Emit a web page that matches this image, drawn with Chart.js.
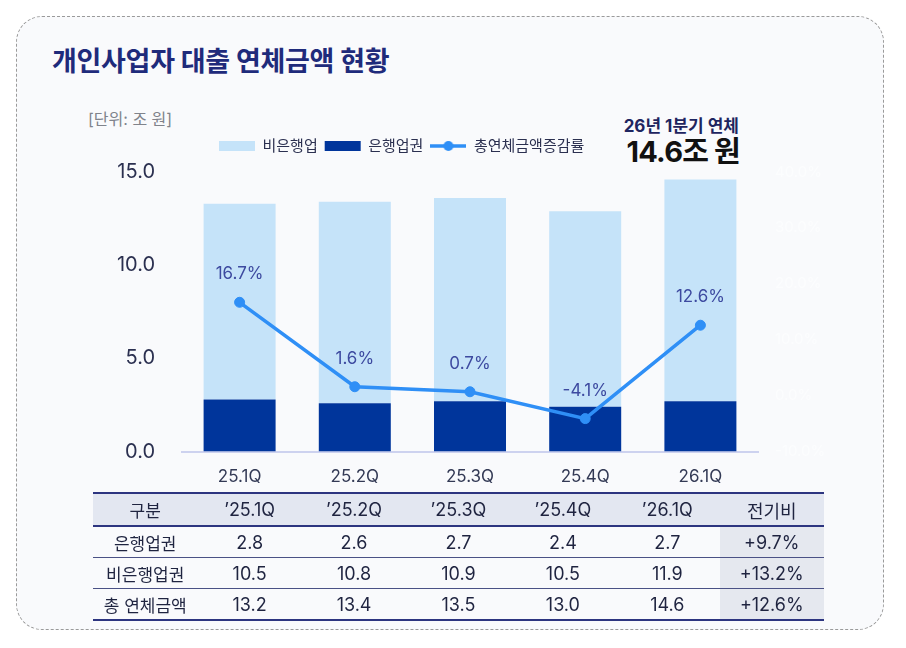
<!DOCTYPE html>
<html lang="ko">
<head>
<meta charset="utf-8">
<script src="https://cdn.jsdelivr.net/npm/chart.js@4.4.1/dist/chart.umd.min.js"></script>
<style>
html,body{margin:0;padding:0;background:#ffffff;}
body{width:906px;height:648px;position:relative;overflow:hidden;font-family:Inter,"Noto Sans CJK KR",sans-serif;}
.card{position:absolute;left:16px;top:16px;width:868px;height:614px;border:1px dashed #9a9a9a;border-radius:26px;background:#f9fafc;box-sizing:border-box;}
.title{position:absolute;left:52px;top:42px;font-size:27px;font-weight:700;color:#1f2b7b;line-height:40px;letter-spacing:-0.3px;white-space:nowrap;}
.unit{position:absolute;left:88px;top:108px;font-size:16px;color:#80838b;line-height:22px;white-space:nowrap;}
.anno1{position:absolute;right:167px;top:116px;font-size:17px;font-weight:700;color:#1e2560;line-height:20px;white-space:nowrap;text-align:right;}
.anno2{position:absolute;right:166px;top:135px;font-size:29px;font-weight:700;color:#111111;line-height:34px;white-space:nowrap;text-align:right;letter-spacing:-0.8px;}
.wrap{position:absolute;left:20px;top:132px;width:860px;height:371px;}
table{position:absolute;left:93px;top:492px;width:731px;border-collapse:collapse;table-layout:fixed;font-size:18px;color:#1f2440;}
th,td{text-align:center;padding:0;font-weight:400;}
th:first-child,td:first-child{font-size:17px;}
thead th{background:#e3e7f1;height:31px;border-top:2px solid #2d3580;border-bottom:2px solid #2d3580;}
tbody td{height:30px;border-bottom:1px solid #4a5185;}
tbody tr:last-child td{border-bottom:2px solid #2d3580;}
tbody td.last{background:#e5e8ef;}
</style>
</head>
<body>
<div class="card"></div>
<div class="title">개인사업자 대출 연체금액 현황</div>
<div class="unit">[단위: 조 원]</div>
<div class="anno1">26년 1분기 연체</div>
<div class="anno2">14.6조 원</div>
<div class="wrap"><canvas id="c"></canvas></div>
<table id="tbl"></table>
<script>
// ---- data ----
const quarters = ['25.1Q', '25.2Q', '25.3Q', '25.4Q', '26.1Q'];
const bankValues = [2.8, 2.6, 2.7, 2.4, 2.7];
const nonBankValues = [10.5, 10.8, 10.9, 10.5, 11.9];
const totalValues = [13.2, 13.4, 13.5, 13.0, 14.6];
const growthRates = [16.7, 1.6, 0.7, -4.1, 12.6];
const tableQuarters = ['’25.1Q', '’25.2Q', '’25.3Q', '’25.4Q', '’26.1Q'];
const rowLabels = ['은행업권', '비은행업권', '총 연체금액'];
const qoqChanges = ['+9.7%', '+13.2%', '+12.6%'];
const seriesNames = ['비은행업', '은행업권', '총연체금액증감률'];

// ---- table ----
(function buildTable() {
  const t = document.getElementById('tbl');
  let h = '<thead><tr><th>구분</th>';
  tableQuarters.forEach(q => { h += '<th>' + q + '</th>'; });
  h += '<th>전기비</th></tr></thead><tbody>';
  const rows = [bankValues, nonBankValues, totalValues];
  rows.forEach((r, i) => {
    h += '<tr><td>' + rowLabels[i] + '</td>';
    r.forEach(v => { h += '<td>' + v.toFixed(1) + '</td>'; });
    h += '<td class="last">' + qoqChanges[i] + '</td></tr>';
  });
  h += '</tbody>';
  t.innerHTML = h;
})();

// ---- chart ----
Chart.defaults.font.family = 'Inter, "Noto Sans CJK KR", sans-serif';
const LINE_COLOR = '#2f8ff6';

const lineIcon = document.createElement('canvas');
lineIcon.width = 36; lineIcon.height = 12;
(function () {
  const g = lineIcon.getContext('2d');
  g.strokeStyle = LINE_COLOR; g.lineWidth = 3.5;
  g.beginPath(); g.moveTo(0, 6); g.lineTo(36, 6); g.stroke();
  g.fillStyle = LINE_COLOR;
  g.beginPath(); g.arc(18, 6, 5, 0, Math.PI * 2); g.fill();
})();

const pointLabels = {
  id: 'pointLabels',
  afterDatasetsDraw(chart) {
    const meta = chart.getDatasetMeta(2);
    const ctx = chart.ctx;
    ctx.save();
    ctx.font = '17px Inter, "Noto Sans CJK KR", sans-serif';
    ctx.fillStyle = '#3d4aa0';
    ctx.textAlign = 'center';
    ctx.textBaseline = 'middle';
    meta.data.forEach((pt, i) => {
      ctx.fillText(growthRates[i].toFixed(1) + '%', pt.x, pt.y - 28);
    });
    ctx.restore();
  }
};

const legendShift = {
  id: 'legendShift',
  afterLayout(chart) {
    const lg = chart.legend;
    if (!lg) return;
    const w = lg.right - lg.left;
    lg.left = 199 - 7;
    lg.right = lg.left + w;
    lg.top -= 8.5;
    lg.bottom -= 8.5;
  }
};

const legendRank = [1, 0, 2];

new Chart(document.getElementById('c'), {
  data: {
    labels: quarters,
    datasets: [
      {
        type: 'bar', label: seriesNames[1], data: bankValues,
        backgroundColor: '#00359b', borderWidth: 0, pointStyle: 'rect',
        stack: 's', yAxisID: 'y', order: 1,
        categoryPercentage: 0.8, barPercentage: 0.78125
      },
      {
        type: 'bar', label: seriesNames[0], data: nonBankValues,
        backgroundColor: '#c5e3f9', borderWidth: 0, pointStyle: 'rect',
        stack: 's', yAxisID: 'y', order: 1,
        categoryPercentage: 0.8, barPercentage: 0.78125
      },
      {
        type: 'line', label: seriesNames[2], data: growthRates,
        borderColor: LINE_COLOR, backgroundColor: LINE_COLOR,
        borderWidth: 3.5, pointRadius: 5, pointHoverRadius: 5,
        pointBorderWidth: 1, pointBorderColor: LINE_COLOR, pointBackgroundColor: LINE_COLOR,
        tension: 0, yAxisID: 'y1', order: 0
      }
    ]
  },
  options: {
    responsive: true,
    maintainAspectRatio: false,
    animation: false,
    layout: { padding: { top: 8, bottom: 1, left: 0, right: 0 } },
    plugins: {
      tooltip: { enabled: false },
      legend: {
        position: 'top',
        align: 'start',
        labels: {
          usePointStyle: true,
          pointStyleWidth: 36,
          boxWidth: 36,
          boxHeight: 10,
          padding: 7,
          color: '#2b3050',
          font: { size: 15 },
          sort: (a, b) => legendRank[a.datasetIndex] - legendRank[b.datasetIndex],
          generateLabels(chart) {
            const items = Chart.defaults.plugins.legend.labels.generateLabels(chart);
            items.forEach(it => {
              if (it.datasetIndex === 2) {
                it.pointStyle = lineIcon;
              } else {
                it.pointStyle = 'rect';
                it.lineWidth = 0;
                it.strokeStyle = it.fillStyle;
              }
            });
            return items;
          }
        }
      }
    },
    scales: {
      x: {
        stacked: true,
        grid: { display: false, drawTicks: false },
        border: { display: true, color: '#cdd2ef', width: 2 },
        ticks: { color: '#333a55', font: { size: 17 }, padding: 15 }
      },
      y: {
        stacked: true,
        min: 0, max: 15,
        grid: { display: false, drawTicks: false },
        border: { display: false },
        ticks: { stepSize: 5, padding: 27, color: '#2b3050', font: { size: 20 }, callback: v => Number(v).toFixed(1) },
        afterFit(s) { s.width = 162; }
      },
      y1: {
        position: 'right',
        min: -10, max: 40,
        grid: { display: false, drawTicks: false },
        border: { display: false },
        ticks: { stepSize: 10, padding: 17, color: '#fcfdfe', font: { size: 15 }, callback: v => Number(v).toFixed(1) + '%' },
        afterFit(s) { s.width = 122; }
      }
    }
  },
  plugins: [pointLabels, legendShift]
});
</script>
</body>
</html>
